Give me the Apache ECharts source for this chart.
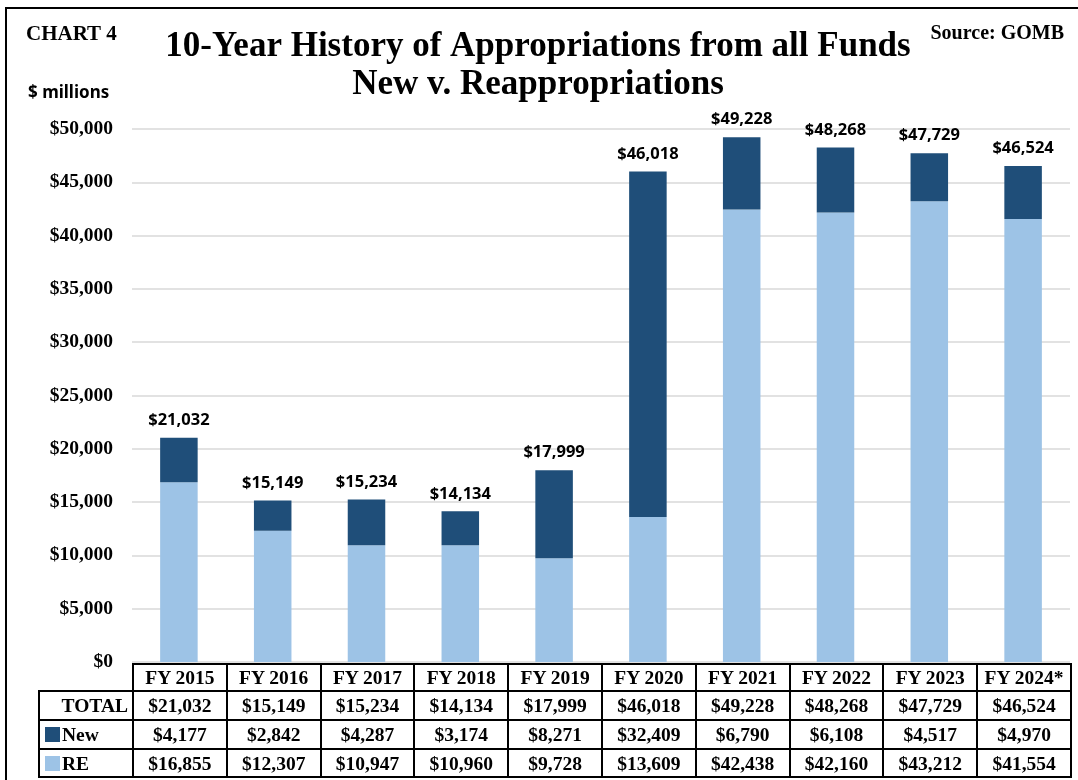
<!DOCTYPE html>
<html>
<head>
<meta charset="utf-8">
<script src="https://cdn.jsdelivr.net/npm/echarts@6/dist/echarts.min.js"></script>
<style>
    html, body {margin:0;padding:0;background:#fff;}
    #wrap {position:relative;width:1078px;height:780px;overflow:hidden;}
    #frame {position:absolute;left:5px;top:7px;width:1100px;height:800px;border:2px solid #000;box-sizing:border-box;}
    #chart {position:absolute;left:0;top:0;width:1078px;height:780px;}
    #tbl {position:absolute;left:38px;top:663px;border-collapse:collapse;table-layout:fixed;
          font-family:"Liberation Serif","Times New Roman",serif;font-weight:bold;font-size:19.5px;color:#000;}
    #tbl td {border:2px solid #000;text-align:center;padding:0;height:25px;line-height:25px;white-space:nowrap;}
    #tbl td.blank {border-top:hidden;border-left:hidden;}
    #tbl td.lbl {text-align:left;padding-left:5px;}
    #tbl td.tot {text-align:right;padding-right:4px;}
    .sw {display:inline-block;width:15px;height:15px;margin-right:2px;vertical-align:-1px;}
</style>
</head>
<body>
<div id="wrap">
    <div id="frame"></div>
    <div id="chart"></div>
    <table id="tbl"></table>
</div>
<script>
    var years = ['FY 2015', 'FY 2016', 'FY 2017', 'FY 2018', 'FY 2019', 'FY 2020', 'FY 2021', 'FY 2022', 'FY 2023', 'FY 2024*'];
    var totalData = [21032, 15149, 15234, 14134, 17999, 46018, 49228, 48268, 47729, 46524];
    var newData = [4177, 2842, 4287, 3174, 8271, 32409, 6790, 6108, 4517, 4970];
    var reData = [16855, 12307, 10947, 10960, 9728, 13609, 42438, 42160, 43212, 41554];

    var darkBlue = '#1F4E79';
    var lightBlue = '#9DC3E6';
    var money = function (v) {
        return '$' + v.toString().replace(/\B(?=(\d{3})+(?!\d))/g, ',');
    };

    var serif = '"Liberation Serif","Times New Roman",serif';
    var sans = '"Noto Sans","Open Sans",sans-serif';

    var chart = echarts.init(document.getElementById('chart'), null, {renderer: 'canvas'});
    var option = {
        animation: false,
        title: [
            {
                text: '10-Year History of Appropriations from all Funds\nNew v. Reappropriations',
                left: 533, top: 23, textAlign: 'center',
                textStyle: {fontFamily: serif, fontWeight: 'bold', fontSize: 35, lineHeight: 38, color: '#000'}
            },
            {
                text: 'CHART 4', left: 21, top: 19,
                textStyle: {fontFamily: serif, fontWeight: 'bold', fontSize: 21, color: '#000'}
            },
            {
                text: 'Source: GOMB', right: 9, top: 19,
                textStyle: {fontFamily: serif, fontWeight: 'bold', fontSize: 20, color: '#000'}
            },
            {
                text: '$ millions', left: 23, top: 80,
                textStyle: {fontFamily: sans, fontWeight: 'bold', fontSize: 17, color: '#000'}
            }
        ],
        grid: {left: 132, right: 8, top: 129, bottom: 118},
        xAxis: {
            type: 'category',
            data: years,
            axisLine: {show: false},
            axisTick: {show: false},
            axisLabel: {show: false}
        },
        yAxis: {
            type: 'value',
            min: 0, max: 50000, interval: 5000,
            axisLine: {show: false},
            axisTick: {show: false},
            splitLine: {lineStyle: {color: '#d9d9d9', width: 1.5}},
            axisLabel: {
                margin: 19,
                fontFamily: serif, fontWeight: 'bold', fontSize: 19.5, color: '#000',
                formatter: money
            }
        },
        series: [
            {
                name: 'RE', type: 'bar', stack: 'all', barWidth: '40%',
                itemStyle: {color: lightBlue},
                data: reData
            },
            {
                name: 'New', type: 'bar', stack: 'all', barWidth: '40%',
                itemStyle: {color: darkBlue},
                data: newData,
                label: {
                    show: true, position: 'top', distance: 9,
                    fontFamily: sans, fontWeight: 'bold', fontSize: 16.5, color: '#000',
                    formatter: function (p) { return money(totalData[p.dataIndex]); }
                }
            }
        ]
    };
    chart.setOption(option);

    // data table under the plot
    var colW = 938 / years.length;
    var html = '<colgroup><col style="width:94px">';
    years.forEach(function () { html += '<col style="width:' + colW + 'px">'; });
    html += '</colgroup>';
    html += '<tr><td class="blank"></td>';
    years.forEach(function (y) { html += '<td>' + y + '</td>'; });
    html += '</tr><tr style="height:29px"><td class="tot">TOTAL</td>';
    totalData.forEach(function (v) { html += '<td>' + money(v) + '</td>'; });
    html += '</tr><tr style="height:29px"><td class="lbl"><span class="sw" style="background:' + darkBlue + '"></span>New</td>';
    newData.forEach(function (v) { html += '<td>' + money(v) + '</td>'; });
    html += '</tr><tr style="height:28px"><td class="lbl"><span class="sw" style="background:' + lightBlue + '"></span>RE</td>';
    reData.forEach(function (v) { html += '<td>' + money(v) + '</td>'; });
    html += '</tr>';
    document.getElementById('tbl').innerHTML = html;
</script>
</body>
</html>
